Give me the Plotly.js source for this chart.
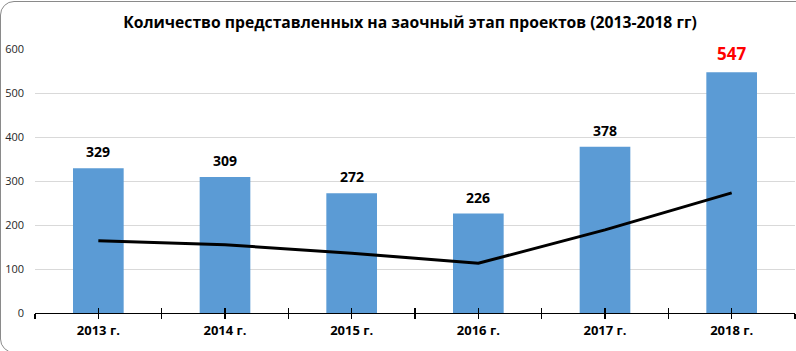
<!DOCTYPE html>
<html>
<head>
<meta charset="utf-8">
<script src="https://cdn.plot.ly/plotly-3.0.1.min.js"></script>
<style>
html,body{margin:0;padding:0;background:#fff;overflow:hidden;}
#wrap{position:relative;width:796px;height:351px;overflow:hidden;}
#frame{position:absolute;left:0;top:1px;width:830px;height:352px;border:1.5px solid #8a8a8a;border-radius:14px;box-sizing:border-box;pointer-events:none;}
#chart{position:absolute;left:0;top:0;width:796px;height:351px;}
</style>
</head>
<body>
<div id="wrap"><div id="chart"></div><div id="frame"></div></div>
<script>
const years = ["2013 г.", "2014 г.", "2015 г.", "2016 г.", "2017 г.", "2018 г."];
const projects = [329, 309, 272, 226, 378, 547];
const trend = [164, 155, 136, 113, 189, 273];
const labelColors = ["#000000", "#000000", "#000000", "#000000", "#000000", "#ff0000"];
const labelSizes = [14, 14, 14, 14, 14, 17];
const yTicks = [0, 100, 200, 300, 400, 500, 600];

const idx = years.map((_, i) => i);
const tickPos = [];
const tickTxt = [];
for (let i = 0; i < years.length; i++) {
  tickPos.push(i - 0.5); tickTxt.push("");
  tickPos.push(i); tickTxt.push("<b>" + years[i] + "</b>");
}
tickPos.push(years.length - 0.5); tickTxt.push("");

const FONT = "'Open Sans', 'DejaVu Sans', sans-serif";

const data = [
  {type: "bar", x: idx, y: projects, marker: {color: "#5b9bd5"}, hoverinfo: "none", xaxis: "x", yaxis: "y"},
  {type: "scatter", mode: "lines", x: idx, y: trend, line: {color: "#000000", width: 3}, hoverinfo: "none", xaxis: "x2", yaxis: "y"}
];

const annotations = projects.map((v, i) => ({
  x: i, y: v, xref: "x", yref: "y", text: "<b>" + v + "</b>", showarrow: false,
  yanchor: "bottom", yshift: 5,
  font: {family: FONT, size: labelSizes[i], color: labelColors[i]}
}));

const xr = [-0.5, years.length - 0.5];
const layout = {
  width: 796, height: 351,
  margin: {l: 35, r: 1, t: 49, b: 38},
  paper_bgcolor: "rgba(0,0,0,0)", plot_bgcolor: "rgba(0,0,0,0)",
  showlegend: false,
  bargap: 0.6,
  title: {text: "<b>Количество представленных на заочный этап проектов (2013-2018 гг)</b>",
    x: 0.515, xref: "container", xanchor: "center", y: 0.937, yref: "container", yanchor: "middle",
    font: {family: FONT, size: 15.7, color: "#000000"}},
  xaxis: {range: xr, tickmode: "array", tickvals: tickPos, ticktext: tickTxt,
    ticks: "outside", ticklen: 5, tickwidth: 1.3, tickcolor: "#000000",
    showline: true, linecolor: "#000000", linewidth: 1.3, showgrid: false, zeroline: false,
    tickfont: {family: FONT, size: 13, color: "#000000"}, tickangle: 0, fixedrange: true},
  xaxis2: {range: xr, overlaying: "x", side: "bottom", anchor: "y", tickmode: "array", tickvals: tickPos,
    ticktext: tickPos.map(() => ""), showticklabels: false,
    ticks: "inside", ticklen: 5, tickwidth: 1.3, tickcolor: "#000000",
    showline: false, showgrid: false, zeroline: false, fixedrange: true},
  yaxis: {range: [0, 600], tickmode: "array", tickvals: yTicks, ticktext: yTicks.map(String),
    showgrid: true, gridcolor: "#d9d9d9", gridwidth: 1, zeroline: false, showline: false,
    ticks: "", ticklabelstandoff: 10,
    tickfont: {family: FONT, size: 11, color: "#262626"}, fixedrange: true},
  annotations: annotations
};

Plotly.newPlot("chart", data, layout, {displayModeBar: false, staticPlot: true});
</script>
</body>
</html>
